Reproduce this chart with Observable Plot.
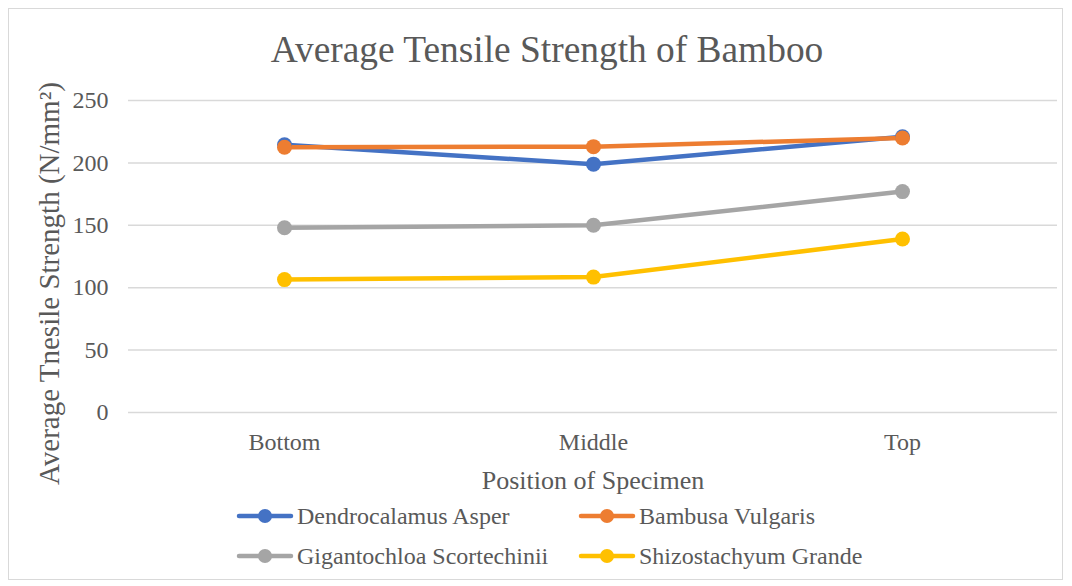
<!DOCTYPE html>
<html>
<head>
<meta charset="utf-8">
<script src="https://cdn.jsdelivr.net/npm/d3@7"></script>
<script src="https://cdn.jsdelivr.net/npm/@observablehq/plot@0.6"></script>
<style>
  html, body { margin: 0; padding: 0; background: #fff; }
  #wrap { position: relative; width: 1072px; height: 586px; font-family: "Liberation Serif", "Times New Roman", serif; color: #595959; }
  #frame { position: absolute; left: 8px; top: 8px; width: 1055px; height: 572px; border: 1px solid #d9d9d9; box-sizing: border-box; }
  #title { position: absolute; top: 27px; left: 547px; transform: translateX(-50%); white-space: nowrap; font-size: 37.4px; line-height: 46px; font-family: "Liberation Serif", serif; }
  #chart { position: absolute; left: 0; top: 0; }
  #legend { position: absolute; left: 236px; top: 500px; display: grid; grid-template-columns: 342px 300px; row-gap: 8px; font-size: 24px; font-family: "Liberation Serif", serif; }
  .item { display: flex; align-items: center; height: 32px; white-space: nowrap; font-family: "Liberation Serif", serif; }
  .item span { font-family: "Liberation Serif", serif; }
  .item svg { margin-right: 3px; }
</style>
</head>
<body>
<div id="wrap">
  <div id="frame"></div>
  <div id="chart"></div>
  <div id="title">Average Tensile Strength of Bamboo</div>
  <div id="legend"></div>
</div>
<script>
const positions = ["Bottom", "Middle", "Top"];
const seriesNames = ["Dendrocalamus Asper", "Bambusa Vulgaris", "Gigantochloa Scortechinii", "Shizostachyum Grande"];
const dendrocalamusAsper = [214.5, 199, 221];
const bambusaVulgaris = [212.5, 213, 220];
const gigantochloaScortechinii = [148, 150, 177];
const shizostachyumGrande = [106.5, 108.5, 139];
const yTicks = [0, 50, 100, 150, 200, 250];
const colors = ["#4472C4", "#ED7D31", "#A5A5A5", "#FFC000"];

const seriesValues = [dendrocalamusAsper, bambusaVulgaris, gigantochloaScortechinii, shizostachyumGrande];
const data = [];
seriesNames.forEach((s, i) => positions.forEach((p, j) => data.push({series: s, position: p, value: seriesValues[i][j]})));

const textColor = "#595959";
const chart = Plot.plot({
  width: 1072,
  height: 500,
  marginLeft: 128,
  marginRight: 15,
  marginTop: 100,
  marginBottom: 88,
  style: {fontFamily: "'Liberation Serif', 'Times New Roman', serif", color: textColor, background: "transparent", overflow: "visible"},
  x: {type: "point", domain: positions, padding: 0.5},
  y: {domain: [0, 250]},
  color: {domain: seriesNames, range: colors},
  marks: [
    Plot.gridY(yTicks, {stroke: "#d9d9d9", strokeOpacity: 1, strokeWidth: 1.5}),
    Plot.axisY(yTicks, {tickSize: 0, tickPadding: 20, fontSize: 24, fill: textColor,
      label: "Average Tnesile Strength (N/mm²)", labelAnchor: "center", labelArrow: "none", labelOffset: 90}),
    Plot.axisX({tickSize: 0, tickPadding: 20, fontSize: 24, fill: textColor,
      label: "Position of Specimen", labelAnchor: "center", labelArrow: "none", labelOffset: 76}),
    Plot.line(data, {x: "position", y: "value", z: "series", stroke: "series", strokeWidth: 4.5, strokeLinejoin: "round", strokeLinecap: "round"}),
    Plot.dot(data, {x: "position", y: "value", fill: "series", r: 7.5})
  ]
});
chart.querySelectorAll("g[aria-label='x-axis label'] text").forEach(t => t.setAttribute("font-size", "26"));
chart.querySelectorAll("g[aria-label='y-axis label']").forEach(g => {
  g.setAttribute("transform", ((g.getAttribute("transform") || "") + " translate(0,27)").trim());
  g.querySelectorAll("text").forEach(t => t.setAttribute("font-size", "29"));
});
document.getElementById("chart").appendChild(chart);

const legend = document.getElementById("legend");
seriesNames.forEach((s, i) => {
  const item = document.createElement("div");
  item.className = "item";
  item.innerHTML = `<svg width="58" height="20"><line x1="3" y1="10" x2="55" y2="10" stroke="${colors[i]}" stroke-width="4.5" stroke-linecap="round"/><circle cx="29" cy="10" r="7" fill="${colors[i]}"/></svg><span>${s}</span>`;
  legend.appendChild(item);
});
</script>
</body>
</html>
